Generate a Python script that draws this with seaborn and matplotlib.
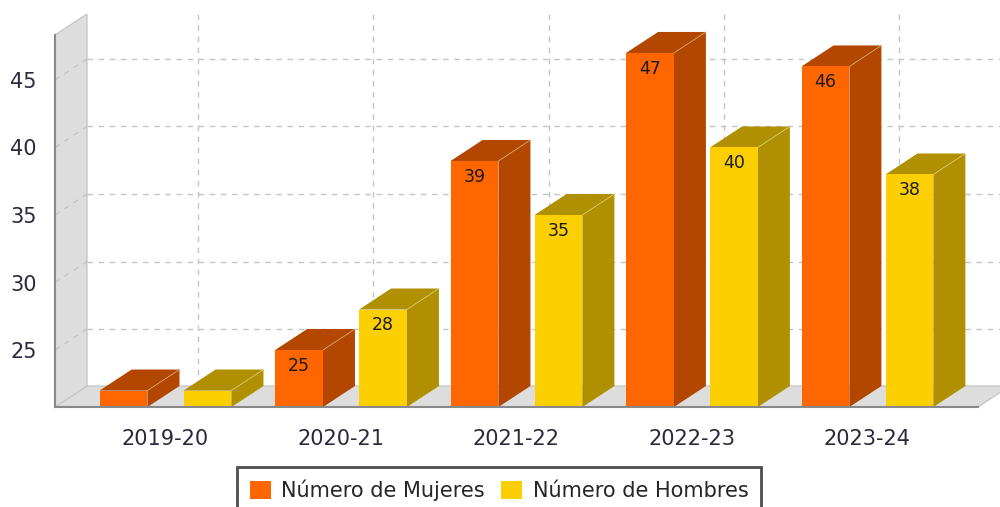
import numpy as np
import pandas as pd
import matplotlib
matplotlib.use("Agg")
import matplotlib.pyplot as plt
from matplotlib.patches import Polygon, Patch
import seaborn as sns

# data
periodos = ['2019-20', '2020-21', '2021-22', '2022-23', '2023-24']
mujeres = [22, 25, 39, 47, 46]
hombres = [22, 28, 35, 40, 38]
series = ['Número de Mujeres', 'Número de Hombres']

colores = {series[0]: '#FF6600', series[1]: '#FCD000'}
oscuros = {series[0]: '#B34700', series[1]: '#B09000'}

df = pd.DataFrame({'periodo': periodos * 2,
                   'serie': [series[0]] * len(periodos) + [series[1]] * len(periodos),
                   'valor': mujeres + hombres})

sns.set_style('white')
plt.rcParams['font.family'] = ['DejaVu Sans']

W, H = 1000, 507
fig = plt.figure(figsize=(W / 100, H / 100), dpi=100)
# front plane of the plot: left 55px, right 978px, top 35px, bottom 407px
ax = fig.add_axes([55 / W, (H - 407) / H, (978 - 55) / W, (407 - 35) / H])

sns.barplot(data=df, x='periodo', y='valor', hue='serie', palette=colores,
            width=0.957, gap=0.43, saturation=1, linewidth=0, legend=False,
            zorder=3, ax=ax)

ax.set_xlim(-0.63, len(periodos) - 1 + 0.63)
ax.set_ylim(20.78, 48.33)
x0, x1 = ax.get_xlim()
y0, y1 = ax.get_ylim()

# 3d depth offset (32px right, 21px up) in data units
ax_w = (978 - 55)
ax_h = (407 - 35)
dx = 32 * (x1 - x0) / ax_w
dy = 21 * (y1 - y0) / ax_h

# floor and wall
floor = Polygon([(x0, y0), (x1, y0), (x1 + dx, y0 + dy), (x0 + dx, y0 + dy)],
                closed=True, fc='#DDDDDD', ec='#C8C8C8', lw=1, clip_on=False, zorder=0.5)
wall = Polygon([(x0, y0), (x0 + dx, y0 + dy), (x0 + dx, y1 + dy), (x0, y1)],
               closed=True, fc='#DDDDDD', ec='#C8C8C8', lw=1, clip_on=False, zorder=0.5)
ax.add_patch(floor)
ax.add_patch(wall)

# gridlines on the back plane
grid_kw = dict(color='#C4C4C4', lw=1, ls=(0, (4, 4)), clip_on=False, zorder=1)
yticks = [25, 30, 35, 40, 45]
for v in yticks:
    ax.plot([x0 + dx, x1 + dx], [v + dy, v + dy], **grid_kw)
    ax.plot([x0, x0 + dx], [v, v + dy], **grid_kw)
for i in range(len(periodos)):
    ax.plot([i + dx, i + dx], [y0 + dy, y1 + dy], **grid_kw)

# sides, tops and labels of the bars
for cont, s in zip(ax.containers, series):
    for bar in cont:
        bx, bw = bar.get_x(), bar.get_width()
        top = bar.get_height()
        base = y0
        side = Polygon([(bx + bw, base), (bx + bw, top), (bx + bw + dx, top + dy),
                        (bx + bw + dx, base + dy)], closed=True, fc=oscuros[s],
                       ec='none', clip_on=False, zorder=2.5)
        tapa = Polygon([(bx, top), (bx + bw, top), (bx + bw + dx, top + dy),
                        (bx + dx, top + dy)], closed=True, fc=oscuros[s],
                       ec='none', clip_on=False, zorder=2.5)
        ax.add_patch(side)
        ax.add_patch(tapa)
        ax.plot([bx + bw, bx + bw + dx], [top, top + dy], color='#D8A070' if s == series[0] else '#D8C870',
                lw=0.6, clip_on=False, zorder=2.6)
        # label only drawn when it fits inside the bar
        if top - y0 > 2.5:
            ax.annotate(f'{top:.0f}', (bx + bw / 2, top), xytext=(0, -11.5),
                        textcoords='offset points', ha='center', va='center',
                        fontsize=12.5, color='#1A1A1A', zorder=4)

sns.despine(ax=ax)
for sp in ['left', 'bottom']:
    ax.spines[sp].set_color('#888888')
    ax.spines[sp].set_linewidth(1.5)
    ax.spines[sp].set_zorder(5)
ax.set_yticks(yticks)
ax.tick_params(axis='both', length=5, width=1.2, color='#888888',
               labelcolor='#2A2A3A', labelsize=15)
ax.tick_params(axis='x', pad=11)
ax.tick_params(axis='y', pad=8)
ax.set_xlabel('')
ax.set_ylabel('')
ax.set_facecolor('none')

handles = [Patch(fc=colores[s], ec='none') for s in series]
leg = fig.legend(handles, series, loc='upper center', bbox_to_anchor=(499 / W, (H - 467) / H),
                 ncol=2, frameon=True, fancybox=False, edgecolor='#222222', fontsize=15,
                 handlelength=1.0, handleheight=1.0, borderpad=0.6, borderaxespad=0,
                 columnspacing=0.8, handletextpad=0.5)
leg.get_frame().set_linewidth(2)

fig.savefig('out.png', dpi=100)
